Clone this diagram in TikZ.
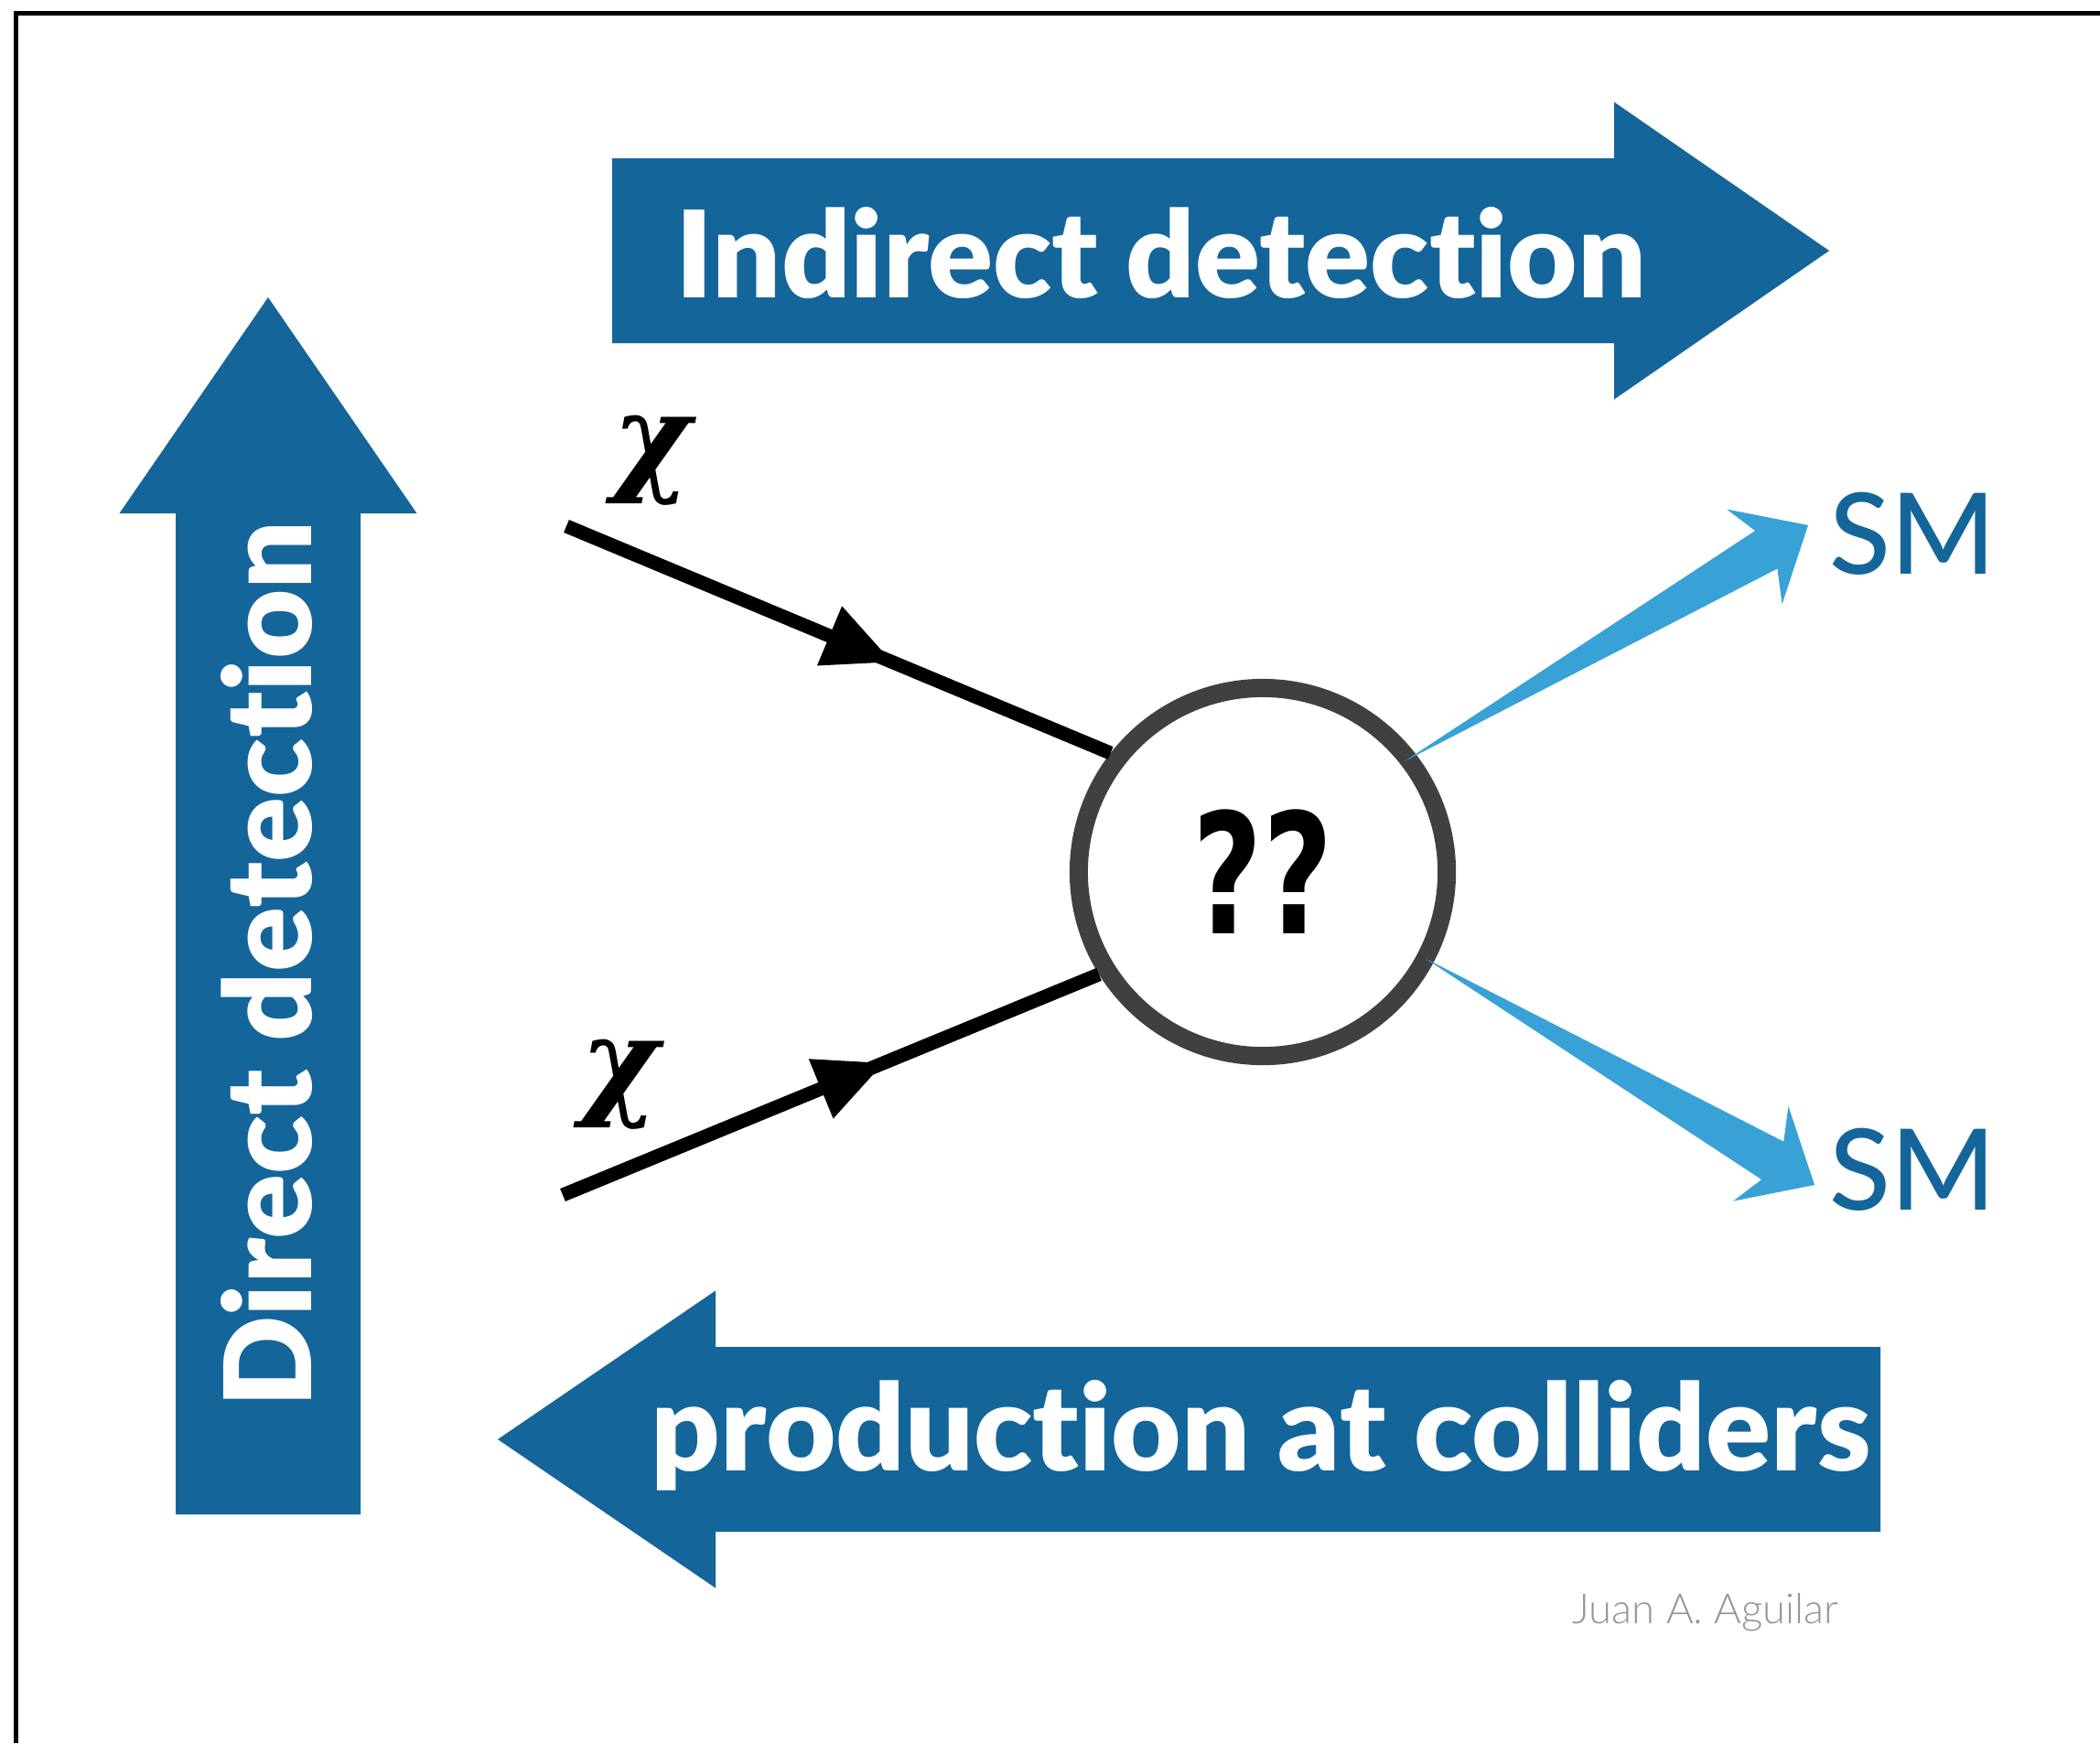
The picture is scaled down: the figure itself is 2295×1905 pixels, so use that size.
\documentclass[tikz,border=0pt]{standalone}
\usepackage{fontspec}
\setmainfont{Lato}
\newfontfamily\heavyfont{Lato Black}[Ligatures=NoCommon]
\newfontfamily\medfont{Lato Medium}
\newfontfamily\lightfont{Lato Light}
\newfontfamily\condfont{DejaVu Sans Condensed}[FakeStretch=0.8]
\newfontfamily\greekfont{DejaVu Serif}
\usepackage{tikz}
\usetikzlibrary{arrows.meta, calc, decorations.markings}

\definecolor{arrowblue}{RGB}{20,101,154}
\definecolor{smblue}{RGB}{56,162,215}
\definecolor{ringgray}{RGB}{64,64,64}
\definecolor{namegray}{RGB}{150,150,150}

% tapered outgoing arrow: #1 = start, #2 = tip
\newcommand\smwedge[2]{%
  \fill[smblue] (#2) -- ($(#2)!0.68cm!(#1)!0.6cm!90:(#2)$)
    -- ($(#2)!0.53cm!(#1)!0.24cm!90:(#2)$) -- (#1)
    -- ($(#2)!0.53cm!(#1)!0.24cm!-90:(#2)$)
    -- ($(#2)!0.68cm!(#1)!0.6cm!-90:(#2)$) -- cycle;}

\begin{document}
\begin{tikzpicture}[x=0.01cm, y=-0.01cm]
    % Define styles
    \tikzstyle{bigarrow} = [fill=arrowblue]
    \tikzstyle{bigtext} = [text=white, inner sep=0, anchor=base, font=\heavyfont\fontsize{37.5}{40}\selectfont]
    \tikzstyle{smlabel} = [text=arrowblue, inner sep=0.2cm, anchor=west, font=\medfont\fontsize{35}{38}\selectfont]
    \tikzstyle{chilabel} = [inner sep=0, anchor=base, font=\greekfont\bfseries\itshape\fontsize{37}{40}\selectfont]
    \tikzstyle{fermion} = [line width=0.15cm, postaction={decorate},
        decoration={markings, mark=at position 0.6 with {\arrow{Triangle[length=0.75cm, width=0.66cm]}}}]
    \tikzstyle{blob} = [circle, draw=ringgray, line width=0.2cm, fill=white, minimum size=4.02cm, inner sep=0,
        font=\condfont\bfseries\fontsize{52}{54}\selectfont]

    \useasboundingbox (0,0) rectangle (2295,1905);

    % Frame
    \draw[line width=0.05cm] (17.5,1905) -- (17.5,14.5) -- (2295,14.5);

    % Detection arrows
    \fill[bigarrow] (669,173) -- (1764,173) -- (1764,111.5) -- (1999,274) -- (1764,436.5) -- (1764,375) -- (669,375) -- cycle;
    \fill[bigarrow] (192,1655) -- (192,561) -- (130.5,561) -- (293,325) -- (455.5,561) -- (394,561) -- (394,1655) -- cycle;
    \fill[bigarrow] (2055,1472) -- (782,1472) -- (782,1410.5) -- (544,1573) -- (782,1735.5) -- (782,1674) -- (2055,1674) -- cycle;

    \node (indirect) [bigtext] at (1269,325) {Indirect detection};
    \node (direct) [bigtext, rotate=90] at (340,1054) {Direct detection};
    \node (collider) [bigtext] at (1378,1607) {production at colliders};

    % Annihilation vertex
    \node (ring) [blob] at (1380,953) {??};

    % Incoming dark matter
    \coordinate (chiA) at (619,575);
    \coordinate (chiB) at (615,1306);
    \node (chiAlabel) [chilabel] at (712,523) {χ};
    \node (chiBlabel) [chilabel] at (677,1205) {χ};
    \draw[fermion] (chiA) -- (ring.142);
    \draw[fermion] (chiB) -- (ring.212);

    % Standard Model products
    \node (smA) [smlabel] at (1979,583) {SM};
    \node (smB) [smlabel] at (1979,1278) {SM};
    \coordinate (outA) at ($(ring.center)!0.93!(ring.38)$);
    \coordinate (outB) at ($(ring.center)!0.95!(ring.-28)$);
    \smwedge{outA}{$(smA.west)+(-3,-9)$}
    \smwedge{outB}{$(smB.west)+(4,17)$}

    \node (credit) [text=namegray, inner sep=0, anchor=base west, font=\lightfont\fontsize{12.9}{14}\selectfont] at (1718,1774) {Juan A. Aguilar};
\end{tikzpicture}
\end{document}
